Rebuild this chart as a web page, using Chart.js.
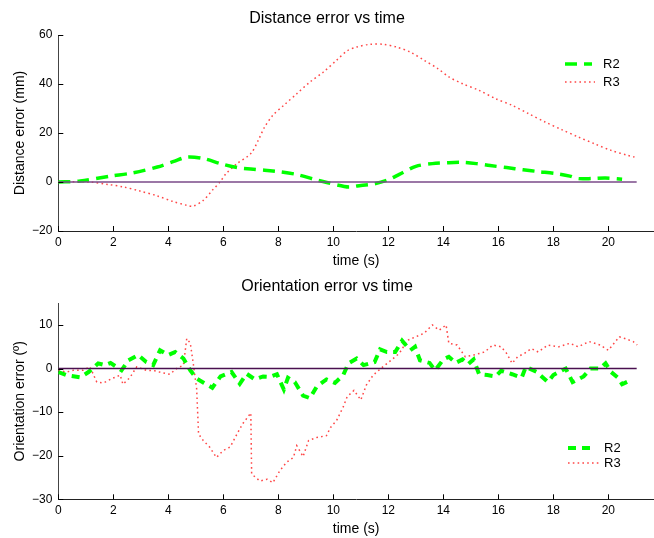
<!DOCTYPE html>
<html>
<head>
<meta charset="utf-8">
<script src="https://cdn.jsdelivr.net/npm/chart.js@4/dist/chart.umd.min.js"></script>
<style>
  body { margin: 0; background: #fff; }
  canvas { display: block; }
</style>
</head>
<body>
<canvas id="distChart" width="654" height="270"></canvas>
<canvas id="orientChart" width="654" height="268"></canvas>
<script>
// distance error (mm), R2 and R3
var distR2Time = [0, 0.8, 1.9, 2.7, 3.6, 4.2, 4.7, 5.3, 5.9, 6.5, 7.0, 7.5, 8.1, 8.7, 9.3, 9.8, 10.4, 10.6, 11.0, 11.5, 11.95, 12.4, 13.0, 13.6, 14.2, 14.7, 15.2, 15.7, 16.3, 16.9, 17.5, 18.1, 18.6, 18.9, 19.4, 19.9, 20.5];
var distR2 = [0, 0.4, 2.4, 3.7, 6.1, 8.4, 10.2, 9.5, 7.5, 5.9, 5.3, 4.8, 4.1, 3.0, 1.1, -0.3, -1.8, -2.0, -1.4, -0.7, 0.7, 3.1, 6.4, 7.5, 7.9, 8.0, 7.5, 6.7, 5.9, 5.0, 4.2, 3.4, 2.4, 1.4, 1.4, 1.6, 1.1];
var distR3Time = [0, 1.15, 1.8, 2.36, 2.97, 3.58, 4.18, 4.67, 4.9, 5.27, 5.6, 5.88, 6.1, 6.5, 7.0, 7.27, 7.5, 7.8, 8.2, 8.67, 9.15, 9.64, 10.12, 10.5, 10.85, 11.33, 11.82, 12.3, 12.8, 13.3, 13.8, 14.2, 14.7, 15.3, 15.9, 16.5, 17.1, 17.7, 18.3, 18.9, 19.5, 20.1, 20.7, 20.95];
var distR3 = [0, 0, -1, -2, -3.7, -5.6, -8.0, -9.5, -9.9, -7.5, -3.4, 0, 3.4, 7.5, 11.6, 17, 22.4, 27.2, 31.3, 36, 40.8, 44.9, 49.7, 53.5, 55.1, 56.2, 56.2, 55.1, 53, 49.7, 46.3, 42.9, 40.1, 37.4, 34, 31.3, 27.9, 24.5, 21.4, 18.4, 15.6, 12.9, 10.9, 10.2];

// orientation error (deg), R2 and R3
var oriR2Time = [0, 0.3, 0.8, 1.1, 1.45, 1.7, 1.9, 2.3, 2.55, 2.9, 3.2, 3.45, 3.7, 4.0, 4.25, 4.55, 4.8, 5.03, 5.3, 5.6, 5.9, 6.3, 6.6, 6.85, 7.15, 7.45, 7.7, 7.95, 8.2, 8.35, 8.6, 8.9, 9.15, 9.4, 9.75, 10.06, 10.36, 10.55, 10.85, 11.1, 11.5, 11.7, 11.95, 12.25, 12.5, 12.8, 12.97, 13.15, 13.5, 13.7, 14.0, 14.2, 14.45, 14.7, 14.9, 15.1, 15.3, 15.6, 15.9, 16.1, 16.5, 16.85, 17.0, 17.4, 17.8, 18.0, 18.2, 18.45, 18.7, 19.1, 19.35, 19.7, 19.9, 20.1, 20.35, 20.5, 20.8];
var oriR2 = [-0.8, -1.5, -2, -0.8, 1.2, 0.8, 1.3, -0.4, 1.9, 3.1, 1.5, 0.8, 4.2, 3.1, 3.8, 2.3, -0.4, -2.3, -3.3, -4.4, -1.8, -0.8, -3.5, -1.2, -2.5, -1.8, -1.9, -1.3, -4.8, -2.1, -3.1, -6.2, -6.8, -4.1, -2.5, -3.3, -1.5, 1.2, 2.3, 0.8, 1.5, 4.4, 3.8, 3.8, 6.4, 4.2, 5.0, 1.9, 1.3, -0.4, 2.1, 2.7, 1.3, 2.1, 1.0, 2.1, -1.3, -1.5, -1.8, -0.5, -1.3, -2.1, 0.4, -0.8, -3.1, -1.5, -0.8, 0, -3.1, -1.8, 0, 0, 1.2, -0.8, -2.1, -3.6, -2.7];
var oriR3Time = [0, 0.3, 0.55, 0.9, 1.15, 1.4, 1.65, 1.95, 2.25, 2.35, 2.6, 2.85, 3.2, 3.5, 3.8, 4.06, 4.3, 4.55, 4.67, 4.8, 4.9, 5.03, 5.1, 5.27, 5.5, 5.75, 6.0, 6.25, 6.5, 6.7, 7.0, 7.03, 7.33, 7.6, 7.8, 8.05, 8.3, 8.55, 8.67, 8.9, 9.1, 9.4, 9.75, 9.9, 10.12, 10.36, 10.5, 10.75, 11.0, 11.2, 11.45, 11.8, 12.1, 12.4, 12.7, 13.0, 13.3, 13.6, 13.85, 14.1, 14.2, 14.5, 14.8, 15.1, 15.5, 15.8, 16.1, 16.3, 16.5, 16.7, 16.95, 17.2, 17.45, 17.8, 18.2, 18.6, 18.9, 19.3, 19.7, 20.0, 20.4, 20.6, 20.9, 21.05];
var oriR3 = [-0.4, -0.8, -0.4, -0.4, 0.4, -3.1, -3.3, -2.3, -1.5, -3.6, -2.1, 0.4, -0.4, -0.5, -1.0, -1.3, 0, 0.8, 6.9, 5.8, 1.5, -4.6, -15, -16.5, -18, -20.4, -18.8, -18, -15, -12.7, -10.2, -24.2, -25.8, -25.4, -26.2, -23.5, -21.5, -20.4, -17.7, -20.2, -16.5, -15.8, -15.4, -13.5, -11.9, -8.8, -6.5, -5, -7.2, -3.8, -1.5, 0.4, 1.9, 3.5, 6.5, 7.3, 8.1, 10, 8.8, 10, 5.8, 5.4, 2.7, 3.1, 3.8, 5.4, 5.0, 3.5, 1.2, 2.7, 3.5, 4.6, 3.8, 5.4, 5.0, 5.8, 5.0, 6.2, 5.4, 4.2, 7.3, 6.9, 6.2, 5.4];

var zeroLineEnd = 21.03;
var xTicks = [0, 2, 4, 6, 8, 10, 12, 14, 16, 18, 20];
var distTicks = [-20, 0, 20, 40, 60];
var oriTicks = [-30, -20, -10, 0, 10];

Chart.defaults.font.family = '"Liberation Sans", Arial, sans-serif';
Chart.defaults.color = '#000';

function pts(xs, ys) {
    return xs.map(function (x, i) { return { x: x, y: ys[i] }; });
}

function minus(v) {
    return v < 0 ? '\u2212' + Math.abs(v) : '' + v;
}

// small tick marks pointing into the plot, like matlab
var innerTicks = {
    id: 'innerTicks',
    afterDraw: function (chart) {
        var ctx = chart.ctx, xs = chart.scales.x, ys = chart.scales.y;
        var area = chart.chartArea;
        ctx.save();
        ctx.strokeStyle = '#000';
        ctx.lineWidth = 1;
        ctx.setLineDash([]);
        ctx.beginPath();
        xs.ticks.forEach(function (t) {
            var px = Math.round(xs.getPixelForValue(t.value)) + 0.5;
            ctx.moveTo(px, area.bottom);
            ctx.lineTo(px, area.bottom - 5);
        });
        ys.ticks.forEach(function (t) {
            var py = Math.round(ys.getPixelForValue(t.value)) + 0.5;
            ctx.moveTo(area.left, py);
            ctx.lineTo(area.left + 5, py);
        });
        ctx.stroke();
        ctx.restore();
    }
};

// legend box drawn inside the plot area
var insideLegend = {
    id: 'insideLegend',
    afterDatasetsDraw: function (chart, args, opts) {
        var ctx = chart.ctx;
        var y = opts.y;
        var n = 0;
        chart.data.datasets.forEach(function (ds) {
            if (!ds.label) return;
            ctx.save();
            ctx.strokeStyle = ds.borderColor;
            ctx.lineWidth = ds.borderWidth;
            ctx.setLineDash(ds.borderDash || []);
            ctx.beginPath();
            ctx.moveTo(opts.x, y);
            ctx.lineTo(opts.x + opts.len[n], y);
            ctx.stroke();
            ctx.setLineDash([]);
            ctx.fillStyle = '#000';
            ctx.font = '13px "Liberation Sans", Arial, sans-serif';
            ctx.textBaseline = 'middle';
            ctx.fillText(ds.label, opts.textX, y);
            ctx.restore();
            y += opts.gap;
            n++;
        });
    }
};

function makeChart(id, o) {
    var ctx = document.getElementById(id).getContext('2d');
    return new Chart(ctx, {
        type: 'line',
        data: {
            datasets: [{
                data: [{ x: 0, y: 0 }, { x: zeroLineEnd, y: 0 }],
                borderColor: o.zeroColor,
                borderWidth: 1.4
            }, {
                label: 'R2',
                data: o.r2,
                borderColor: '#00ff00',
                borderWidth: o.r2Width,
                borderDash: o.r2Dash,
                tension: o.tension
            }, {
                label: 'R3',
                data: o.r3,
                borderColor: 'rgb(255, 70, 70)',
                borderWidth: 1.5,
                borderDash: [1.6, 3.2],
                tension: o.tension
            }]
        },
        options: {
            responsive: false,
            animation: false,
            layout: { padding: 0 },
            elements: { point: { radius: 0 } },
            scales: {
                x: {
                    type: 'linear',
                    min: 0,
                    max: 21.66,
                    afterBuildTicks: function (s) {
                        s.ticks = xTicks.map(function (v) { return { value: v }; });
                    },
                    afterFit: function (s) { s.height = o.xHeight; },
                    grid: { display: false, drawTicks: false },
                    border: { display: true, color: '#222', width: 1 },
                    ticks: { font: { size: 12 }, padding: 4, maxRotation: 0, callback: minus },
                    title: { display: true, text: 'time (s)', font: { size: 14 }, padding: { top: o.xTitlePad, bottom: 0 } }
                },
                y: {
                    min: o.yMin,
                    max: o.yMax,
                    afterBuildTicks: function (s) {
                        s.ticks = o.yTicks.map(function (v) { return { value: v }; });
                    },
                    afterFit: function (s) { s.width = 58.3; },
                    grid: { display: false, drawTicks: false },
                    border: { display: true, color: '#444', width: 1 },
                    ticks: { font: { size: 12 }, padding: 6, callback: minus },
                    title: { display: true, text: o.yTitle, font: { size: 14 }, padding: { top: 11.6, bottom: 0 } }
                }
            },
            plugins: {
                legend: { display: false },
                tooltip: { enabled: false },
                title: {
                    display: true,
                    text: o.title,
                    font: { size: 16, weight: 'normal' },
                    padding: o.titlePad
                },
                insideLegend: o.legend
            }
        },
        plugins: [innerTicks, insideLegend]
    });
}

makeChart('distChart', {
    title: 'Distance error vs time',
    yTitle: 'Distance error (mm)',
    r2: pts(distR2Time, distR2),
    r3: pts(distR3Time, distR3),
    r2Dash: [12, 7],
    r2Width: 3.5,
    tension: 0.3,
    zeroColor: '#7a4a88',
    yMin: -20, yMax: 60, yTicks: distTicks,
    xHeight: 39, xTitlePad: 0.6,
    titlePad: { top: 9, bottom: 6.8 },
    legend: { x: 565, len: [27, 30], textX: 603, y: 64, gap: 18 }
});

makeChart('orientChart', {
    title: 'Orientation error vs time',
    yTitle: 'Orientation error (\u00ba)',
    r2: pts(oriR2Time, oriR2),
    r3: pts(oriR3Time, oriR3),
    r2Dash: [8, 6],
    r2Width: 4,
    tension: 0,
    zeroColor: '#4a1050',
    yMin: -30, yMax: 15, yTicks: oriTicks,
    xHeight: 38.7, xTitlePad: 2.6,
    titlePad: { top: 7, bottom: 7 },
    legend: { x: 568, len: [24, 32], textX: 604, y: 178, gap: 15 }
});
</script>
</body>
</html>
